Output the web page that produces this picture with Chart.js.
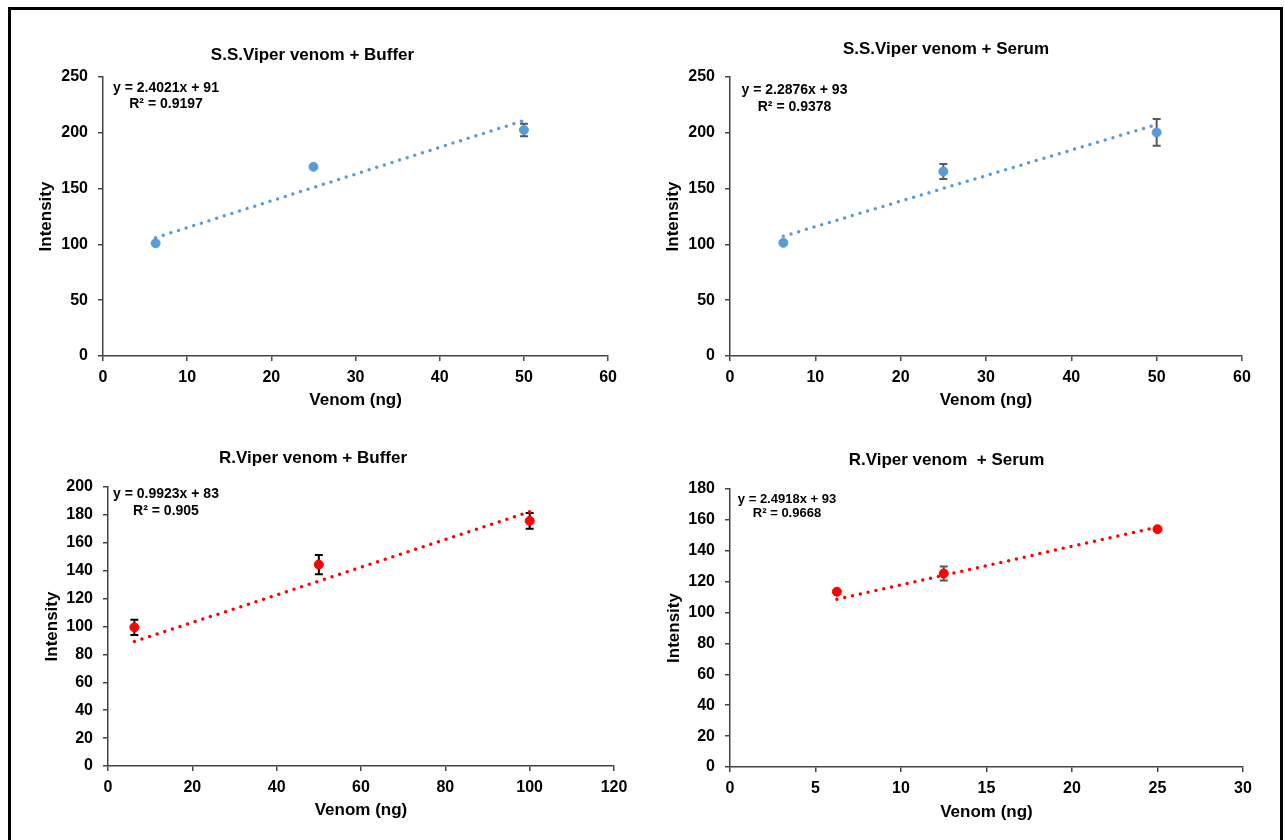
<!DOCTYPE html>
<html>
<head>
<meta charset="utf-8">
<title>Venom intensity</title>
<script src="https://cdn.jsdelivr.net/npm/chart.js@4.4.0/dist/chart.umd.min.js"></script>
<style>
  body { margin: 0; width: 1285px; height: 840px; overflow: hidden; position: relative; background: #fff; }
  #frame { position: absolute; left: 8px; top: 7px; width: 1275px; height: 900px; border: 3px solid #000; box-sizing: border-box; }
  .panel { position: absolute; }
</style>
</head>
<body>
<div id="frame"></div>
<div class="panel" id="p1"><canvas id="c1" width="612" height="410"></canvas></div>
<div class="panel" id="p2"><canvas id="c2" width="612" height="410"></canvas></div>
<div class="panel" id="p3"><canvas id="c3" width="642" height="410"></canvas></div>
<div class="panel" id="p4"><canvas id="c4" width="614" height="410"></canvas></div>
<script>
// S.S.Viper venom + Buffer
const ssBufferX = [6.25, 25, 50];
const ssBufferY = [101, 169.5, 202.5];
const ssBufferErr = [0, 0, 5.7];
const ssBufferFitX = [6.25, 50];
const ssBufferFitY = [106, 211];
const ssBufferXTicks = [0, 10, 20, 30, 40, 50, 60];
const ssBufferYTicks = [0, 50, 100, 150, 200, 250];

// S.S.Viper venom + Serum
const ssSerumX = [6.25, 25, 50];
const ssSerumY = [101.4, 165.3, 200.3];
const ssSerumErr = [0, 6.7, 12];
const ssSerumFitX = [6.25, 50];
const ssSerumFitY = [107.3, 207.4];
const ssSerumXTicks = [0, 10, 20, 30, 40, 50, 60];
const ssSerumYTicks = [0, 50, 100, 150, 200, 250];

// R.Viper venom + Buffer
const rBufferX = [6.25, 50, 100];
const rBufferY = [99.4, 144.4, 175.7];
const rBufferErr = [5.5, 6.9, 5.7];
const rBufferFitX = [6.25, 100];
const rBufferFitY = [89.2, 182.2];
const rBufferXTicks = [0, 20, 40, 60, 80, 100, 120];
const rBufferYTicks = [0, 20, 40, 60, 80, 100, 120, 140, 160, 180, 200];

// R.Viper venom + Serum
const rSerumX = [6.25, 12.5, 25];
const rSerumY = [113.5, 125.3, 154];
const rSerumErr = [0, 4.5, 0];
const rSerumFitX = [6.25, 25];
const rSerumFitY = [108.6, 155.3];
const rSerumXTicks = [0, 5, 10, 15, 20, 25, 30];
const rSerumYTicks = [0, 20, 40, 60, 80, 100, 120, 140, 160, 180];

const FONT = '"Liberation Sans", Arial, sans-serif';
const BLUE = '#5B9BD5';
const RED = '#FF0000';
const AXIS = '#444444';

// error bars (under the markers) and the trendline equation label
const extrasPlugin = {
  id: 'extras',
  beforeDatasetsDraw(chart, args, opts) {
    const ctx = chart.ctx;
    const xs = chart.scales.x, ys = chart.scales.y;
    ctx.save();
    ctx.strokeStyle = opts.errColor;
    ctx.lineWidth = 2;
    opts.xs.forEach((xv, i) => {
      const e = opts.err[i];
      if (!e) return;
      const px = xs.getPixelForValue(xv);
      const top = ys.getPixelForValue(opts.ys[i] + e);
      const bot = ys.getPixelForValue(opts.ys[i] - e);
      ctx.beginPath();
      ctx.moveTo(px, top); ctx.lineTo(px, bot);
      ctx.moveTo(px - 4, top); ctx.lineTo(px + 4, top);
      ctx.moveTo(px - 4, bot); ctx.lineTo(px + 4, bot);
      ctx.stroke();
    });
    ctx.restore();
  },
  afterDraw(chart, args, opts) {
    const ctx = chart.ctx;
    const a = chart.chartArea;
    ctx.save();
    ctx.fillStyle = '#000';
    ctx.font = 'bold ' + opts.eqSize + 'px ' + FONT;
    ctx.textAlign = 'center';
    ctx.textBaseline = 'middle';
    ctx.fillText(opts.eq[0], a.left + opts.eqX, a.top + opts.eqY[0]);
    ctx.fillText(opts.eq[1], a.left + opts.eqX, a.top + opts.eqY[1]);
    ctx.restore();
  }
};

function buildChart(id, c) {
  const panel = document.getElementById('p' + id.slice(1));
  panel.style.left = c.box.x + 'px';
  panel.style.top = c.box.y + 'px';

  const titleLh = 17 * 1.2, axisLh = 17 * 1.2;
  const boxBottom = c.box.y + c.box.h;

  const axisCommon = {
    grid: { drawOnChartArea: false, drawTicks: true, tickLength: 5, color: AXIS, lineWidth: 1.5 },
    border: { color: AXIS, width: 1.5 },
  };

  return new Chart(document.getElementById(id), {
    type: 'scatter',
    data: {
      datasets: [
        {
          data: c.x.map((v, i) => ({ x: v, y: c.y[i] })),
          backgroundColor: c.color,
          borderColor: c.color,
          pointRadius: 4.5,
          pointBorderWidth: 1,
          order: 1
        },
        {
          type: 'line',
          data: c.fitX.map((v, i) => ({ x: v, y: c.fitY[i] })),
          borderColor: c.color,
          borderWidth: 3.5,
          borderDash: [0, 8],
          borderCapStyle: 'round',
          pointRadius: 0,
          fill: false,
          order: 2
        }
      ]
    },
    options: {
      responsive: false,
      animation: false,
      layout: { padding: { left: 0, top: 0, bottom: 0, right: c.box.x + c.box.w - c.area.r } },
      plugins: {
        legend: { display: false },
        tooltip: { enabled: false },
        title: {
          display: true,
          text: c.title,
          color: '#000',
          font: { family: FONT, size: 17, weight: 'bold' },
          padding: { top: c.titleY - c.box.y - titleLh / 2, bottom: c.area.t - c.titleY - titleLh / 2 }
        },
        extras: {
          xs: c.x, ys: c.y, err: c.err, errColor: c.errColor,
          eq: c.eq, eqX: c.eqX, eqY: c.eqY, eqSize: c.eqSize
        }
      },
      scales: {
        x: Object.assign({}, axisCommon, {
          type: 'linear',
          min: c.xTicks[0],
          max: c.xTicks[c.xTicks.length - 1],
          afterBuildTicks: s => { s.ticks = c.xTicks.map(v => ({ value: v })); },
          afterFit: s => { s.height = boxBottom - c.area.b; },
          ticks: { color: '#000', padding: 7, font: { family: FONT, size: 16, weight: 'bold' } },
          title: {
            display: true, text: 'Venom (ng)', color: '#000',
            font: { family: FONT, size: 17, weight: 'bold' },
            padding: { top: 0, bottom: boxBottom - c.xTitleY - axisLh / 2 }
          }
        }),
        y: Object.assign({}, axisCommon, {
          type: 'linear',
          min: c.yTicks[0],
          max: c.yTicks[c.yTicks.length - 1],
          afterBuildTicks: s => { s.ticks = c.yTicks.map(v => ({ value: v })); },
          afterFit: s => { s.width = c.area.l - c.box.x; },
          ticks: { color: '#000', padding: 10, font: { family: FONT, size: 16, weight: 'bold' } },
          title: {
            display: true, text: 'Intensity', color: '#000',
            font: { family: FONT, size: 17, weight: 'bold' },
            padding: { top: c.yTitleX - c.box.x - axisLh / 2, bottom: 0 }
          }
        })
      }
    },
    plugins: [extrasPlugin]
  });
}

buildChart('c1', {
  title: 'S.S.Viper venom + Buffer',
  x: ssBufferX, y: ssBufferY, err: ssBufferErr, fitX: ssBufferFitX, fitY: ssBufferFitY,
  xTicks: ssBufferXTicks, yTicks: ssBufferYTicks,
  color: BLUE, errColor: '#595959',
  eq: ['y = 2.4021x + 91', 'R\u00B2 = 0.9197'], eqX: 63, eqY: [11, 27], eqSize: 14,
  box: { x: 12, y: 12, w: 612, h: 410 },
  area: { l: 103, t: 77, r: 613, b: 356 },
  titleY: 55, xTitleY: 400, yTitleX: 46
});

buildChart('c2', {
  title: 'S.S.Viper venom + Serum',
  x: ssSerumX, y: ssSerumY, err: ssSerumErr, fitX: ssSerumFitX, fitY: ssSerumFitY,
  xTicks: ssSerumXTicks, yTicks: ssSerumYTicks,
  color: BLUE, errColor: '#595959',
  eq: ['y = 2.2876x + 93', 'R\u00B2 = 0.9378'], eqX: 64.5, eqY: [13, 30], eqSize: 14,
  box: { x: 650, y: 12, w: 612, h: 410 },
  area: { l: 730, t: 77, r: 1242, b: 356 },
  titleY: 49.5, xTitleY: 400, yTitleX: 673
});

buildChart('c3', {
  title: 'R.Viper venom + Buffer',
  x: rBufferX, y: rBufferY, err: rBufferErr, fitX: rBufferFitX, fitY: rBufferFitY,
  xTicks: rBufferXTicks, yTicks: rBufferYTicks,
  color: RED, errColor: '#000000',
  eq: ['y = 0.9923x + 83', 'R\u00B2 = 0.905'], eqX: 58, eqY: [7, 24], eqSize: 14,
  box: { x: 12, y: 425, w: 642, h: 410 },
  area: { l: 108, t: 487, r: 614, b: 766 },
  titleY: 458.5, xTitleY: 810.5, yTitleX: 52
});

buildChart('c4', {
  title: 'R.Viper venom  + Serum',
  x: rSerumX, y: rSerumY, err: rSerumErr, fitX: rSerumFitX, fitY: rSerumFitY,
  xTicks: rSerumXTicks, yTicks: rSerumYTicks,
  color: RED, errColor: '#595959',
  eq: ['y = 2.4918x + 93', 'R\u00B2 = 0.9668'], eqX: 57, eqY: [10.5, 24.5], eqSize: 13,
  box: { x: 650, y: 425, w: 614, h: 410 },
  area: { l: 730, t: 489, r: 1243, b: 767 },
  titleY: 460, xTitleY: 812.5, yTitleX: 674
});
</script>
</body>
</html>
